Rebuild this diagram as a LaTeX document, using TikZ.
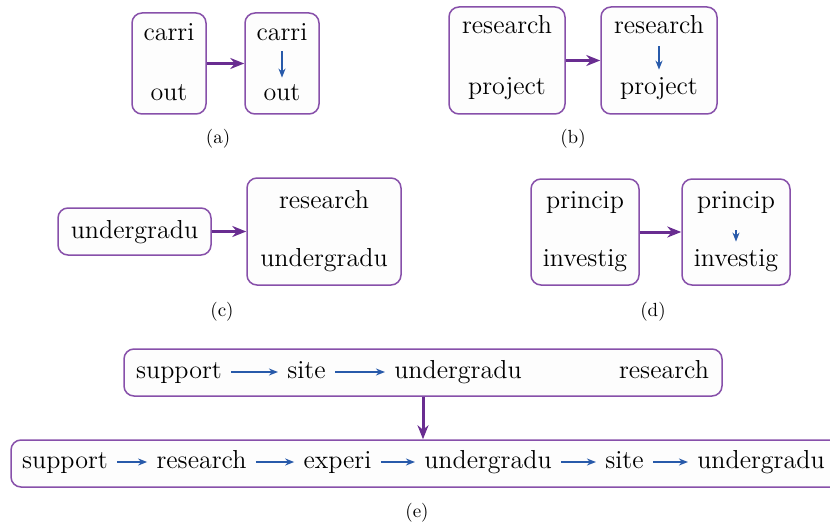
\documentclass[tikz,border=0pt]{standalone}
\usetikzlibrary{arrows.meta}
\definecolor{bpurple}{RGB}{135,80,170}
\definecolor{apurple}{RGB}{105,45,145}
\definecolor{ablue}{RGB}{40,90,170}
\definecolor{boxfill}{RGB}{253,253,253}
\begin{document}
\begin{tikzpicture}[x=0.5pt,y=-0.5pt,
  box/.style={draw=bpurple, line width=0.75pt, rounded corners=5pt, fill=boxfill, inner sep=0pt},
  wrd/.style={inner sep=0pt, text height=9pt, text depth=3pt, font=\fontsize{13}{15}\selectfont},
  captxt/.style={inner sep=0pt, font=\fontsize{9.5}{11}\selectfont},
  parr/.style={draw=apurple, line width=1.5pt, -{Stealth[length=7pt,width=5.5pt]}},
  barr/.style={draw=ablue, line width=0.8pt, -{Stealth[length=4.5pt,width=3.5pt]}},
  warr/.style={barr, shorten <=4.5pt, shorten >=4.5pt}]
\useasboundingbox (0,0) rectangle (830,524);

% ---------- (a)
\node[box, minimum width=37pt, minimum height=50.5pt] (a1) at (169,63.5) {};
\node[box, minimum width=37pt, minimum height=50.5pt] (a2) at (282,63.5) {};
\node[wrd] (a1t) at (169,35) {carri};
\node[wrd] (a1b) at (169,95) {out};
\node[wrd] (a2t) at (282,35) {carri};
\node[wrd] (a2b) at (282,95) {out};
\draw[barr, shorten <=2pt, shorten >=2.5pt] (a2t) -- (a2b);
\draw[parr] (a1) -- (a2);
\node[captxt] (capa) at (218,139) {(a)};

% ---------- (b)
\node[box, minimum width=58pt, minimum height=53.5pt] (b1) at (507,60.5) {};
\node[box, minimum width=58pt, minimum height=53.5pt] (b2) at (659,60.5) {};
\node[wrd] (b1t) at (507,28) {research};
\node[wrd] (b1b) at (507,89) {project};
\node[wrd] (b2t) at (659,28) {research};
\node[wrd] (b2b) at (659,89) {project};
\draw[barr, shorten <=3pt, shorten >=3.5pt] (b2t) -- (b2b);
\draw[parr] (b1) -- (b2);
\node[captxt] (capb) at (573,139) {(b)};

% ---------- (c)
\node[box, minimum width=76.5pt, minimum height=23.5pt] (c1) at (134.5,231.5) {};
\node[box, minimum width=77pt, minimum height=53.5pt] (c2) at (324,231.5) {};
\node[wrd] (c1t) at (134.5,232) {undergradu};
\node[wrd] (c2t) at (324,202) {research};
\node[wrd] (c2b) at (324,260) {undergradu};
\draw[parr] (c1) -- (c2);
\node[captxt] (capc) at (222,312) {(c)};

% ---------- (d)
\node[box, minimum width=54pt, minimum height=53pt] (d1) at (585,232) {};
\node[box, minimum width=54pt, minimum height=53pt] (d2) at (736,232) {};
\node[wrd] (d1t) at (585,202) {princip};
\node[wrd] (d1b) at (585,260) {investig};
\node[wrd] (d2t) at (736,202) {princip};
\node[wrd] (d2b) at (736,260) {investig};
\draw[barr, shorten <=8pt, shorten >=3pt] (d2t) -- (d2b);
\draw[parr] (d1) -- (d2);
\node[captxt] (capd) at (653,312) {(d)};

% ---------- (e)
\node[box, minimum width=299pt, minimum height=23.5pt] (e1) at (423,372.5) {};
\node[box, minimum width=417pt, minimum height=23.5pt] (e2) at (428,463.5) {};
\node[wrd] (e1a) at (179,372) {support};
\node[wrd] (e1b) at (306.5,372) {site};
\node[wrd] (e1c) at (458,372) {undergradu};
\node[wrd] (e1d) at (664,372) {research};
\draw[warr] (e1a) -- (e1b);
\draw[warr] (e1b) -- (e1c);
\node[wrd] (e2a) at (65,462) {support};
\node[wrd] (e2b) at (201.5,462) {research};
\node[wrd] (e2c) at (337.5,462) {experi};
\node[wrd] (e2d) at (488,462) {undergradu};
\node[wrd] (e2e) at (624.5,462) {site};
\node[wrd] (e2f) at (761,462) {undergradu};
\draw[warr] (e2a) -- (e2b);
\draw[warr] (e2b) -- (e2c);
\draw[warr] (e2c) -- (e2d);
\draw[warr] (e2d) -- (e2e);
\draw[warr] (e2e) -- (e2f);
\draw[parr] (e1.south) -- (e1.south |- e2.north);
\node[captxt] (cape) at (417,513) {(e)};
\end{tikzpicture}
\end{document}
